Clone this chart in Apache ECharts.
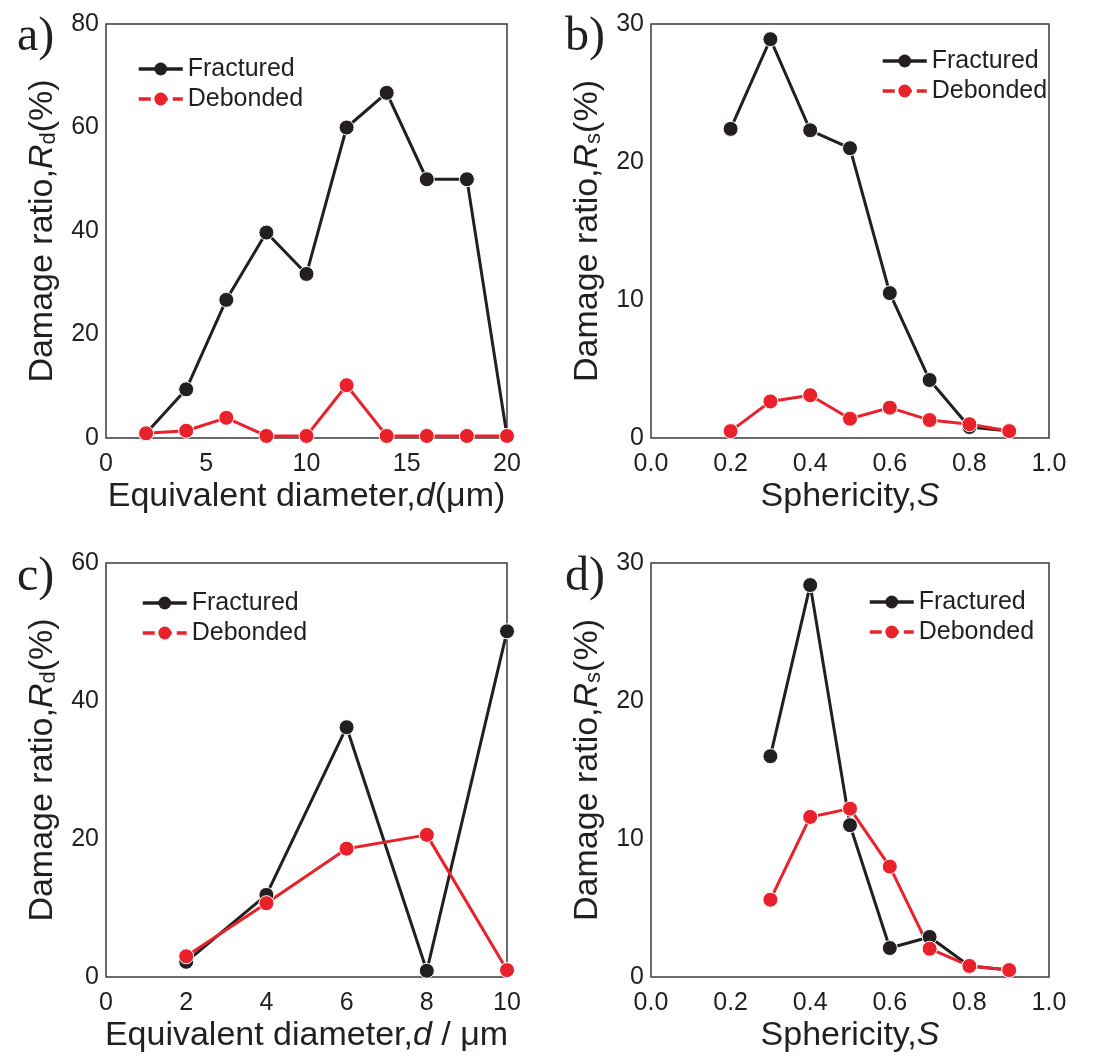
<!DOCTYPE html>
<html>
<head>
<meta charset="utf-8">
<title>Damage ratio</title>
<script src="https://cdn.jsdelivr.net/npm/echarts@6/dist/echarts.min.js"></script>
<style>
  html, body { margin: 0; padding: 0; background: #fff; }
  #chart { width: 1104px; height: 1060px; }
</style>
</head>
<body>
<div id="chart"></div>
<script>
// a) damage ratio vs equivalent diameter
const diamA = [2, 4, 6, 8, 10, 12, 14, 16, 18, 20]
const fracA = [0.9, 9.4, 26.7, 39.7, 31.7, 60.0, 66.7, 50.0, 50.0, 0.4]
const debA = [0.9, 1.4, 3.9, 0.4, 0.4, 10.2, 0.4, 0.4, 0.4, 0.4]

// b) damage ratio vs sphericity
const sphB = [0.2, 0.3, 0.4, 0.5, 0.6, 0.7, 0.8, 0.9]
const fracB = [22.4, 28.9, 22.3, 21.0, 10.5, 4.2, 0.8, 0.5]
const debB = [0.5, 2.65, 3.1, 1.4, 2.2, 1.3, 1.0, 0.5]

// c) damage ratio vs equivalent diameter
const diamC = [2, 4, 6, 8, 10]
const fracC = [2.2, 11.9, 36.2, 0.9, 50.1]
const debC = [3.0, 10.7, 18.6, 20.6, 1.0]

// d) damage ratio vs sphericity
const sphD = [0.3, 0.4, 0.5, 0.6, 0.7, 0.8, 0.9]
const fracD = [16.0, 28.4, 11.0, 2.1, 2.9, 0.8, 0.5]
const debD = [5.6, 11.6, 12.2, 8.0, 2.05, 0.8, 0.5]

const panelLabels = ['a)', 'b)', 'c)', 'd)']

const BLACK = '#231f20'
const RED = '#e8212a'
const FONT = 'Liberation Sans'

const pair = (xs, ys) => xs.map((x, i) => [x, ys[i]])

let chart = echarts.init(document.getElementById('chart'))

const grids = [
  { left: 106, top: 24, width: 401, height: 414 },
  { left: 651, top: 24, width: 398, height: 414 },
  { left: 106, top: 563, width: 401, height: 414 },
  { left: 651, top: 563, width: 398, height: 414 }
]

const rich = {
  n: { fontSize: 34, color: BLACK, fontFamily: FONT },
  i: { fontSize: 34, color: BLACK, fontFamily: FONT, fontStyle: 'italic' },
  s: { fontSize: 22, color: BLACK, fontFamily: FONT, verticalAlign: 'bottom', lineHeight: 28 }
}

const xNames = [
  '{n|Equivalent diameter,}{i|d}{n|(μm)}',
  '{n|Sphericity,}{i|S}',
  '{n|Equivalent diameter,}{i|d}{n| / μm}',
  '{n|Sphericity,}{i|S}'
]
const yNames = [
  '{n|Damage ratio,}{i|R}{s|d}{n|(%)}',
  '{n|Damage ratio,}{i|R}{s|s}{n|(%)}',
  '{n|Damage ratio,}{i|R}{s|d}{n|(%)}',
  '{n|Damage ratio,}{i|R}{s|s}{n|(%)}'
]
const xRanges = [[0, 20, 5], [0, 1, 0.2], [0, 10, 2], [0, 1, 0.2]]
const yRanges = [[0, 80, 20], [0, 30, 10], [0, 60, 20], [0, 30, 10]]

const xAxis = xRanges.map((r, k) => ({
  type: 'value',
  gridIndex: k,
  min: r[0],
  max: r[1],
  interval: r[2],
  name: xNames[k],
  nameLocation: 'middle',
  nameGap: 42,
  nameTextStyle: { rich: rich },
  axisLine: { show: false },
  axisTick: { show: false },
  splitLine: { show: false },
  axisLabel: {
    fontSize: 25,
    color: BLACK,
    fontFamily: FONT,
    margin: 14,
    formatter: r[2] < 1 ? (v) => v.toFixed(1) : (v) => String(v)
  }
}))

const yAxis = yRanges.map((r, k) => ({
  type: 'value',
  gridIndex: k,
  min: r[0],
  max: r[1],
  interval: r[2],
  name: yNames[k],
  nameLocation: 'middle',
  nameRotate: 90,
  nameGap: 46,
  nameTextStyle: { rich: rich },
  axisLine: { show: false },
  axisTick: { show: false },
  splitLine: { show: false },
  axisLabel: { fontSize: 25, color: BLACK, fontFamily: FONT, margin: 7 }
}))

const makeSeries = (name, color, k, xs, ys) => ({
  name: name,
  type: 'line',
  xAxisIndex: k,
  yAxisIndex: k,
  data: pair(xs, ys),
  symbol: 'circle',
  symbolSize: 15,
  lineStyle: { color: color, width: 3 },
  itemStyle: { color: color, borderColor: '#fff', borderWidth: 1 },
  emphasis: { disabled: true }
})

const series = [
  makeSeries('Fractured', BLACK, 0, diamA, fracA),
  makeSeries('Debonded', RED, 0, diamA, debA),
  makeSeries('Fractured', BLACK, 1, sphB, fracB),
  makeSeries('Debonded', RED, 1, sphB, debB),
  makeSeries('Fractured', BLACK, 2, diamC, fracC),
  makeSeries('Debonded', RED, 2, diamC, debC),
  makeSeries('Fractured', BLACK, 3, sphD, fracD),
  makeSeries('Debonded', RED, 3, sphD, debD)
]

const legendPos = [[132, 49], [876, 41], [136, 583], [863, 582]]
const legend = legendPos.map((p) => ({
  left: p[0],
  top: p[1],
  orient: 'vertical',
  itemWidth: 44,
  itemHeight: 16,
  itemGap: 0,
  selectedMode: false,
  lineStyle: { width: 3.5 },
  itemStyle: { borderWidth: 0 },
  textStyle: { fontSize: 25, color: BLACK, fontFamily: FONT, lineHeight: 30 },
  data: [
    { name: 'Fractured' },
    { name: 'Debonded', lineStyle: { type: [12, 5], width: 3.5 } }
  ]
}))

const titlePos = [[12, 8], [560, 8], [12, 548], [560, 548]]
const title = titlePos.map((p, k) => ({
  text: panelLabels[k],
  left: p[0],
  top: p[1],
  textStyle: { fontSize: 48, fontWeight: 'normal', color: BLACK, fontFamily: 'Liberation Serif' }
}))

let option = {
  animation: false,
  backgroundColor: '#fff',
  title: title,
  legend: legend,
  grid: grids.map((g) => Object.assign({ show: true, borderColor: '#3a3a3a', borderWidth: 1.5, backgroundColor: 'transparent' }, g)),
  xAxis: xAxis,
  yAxis: yAxis,
  series: series
}

chart.setOption(option)
</script>
</body>
</html>
